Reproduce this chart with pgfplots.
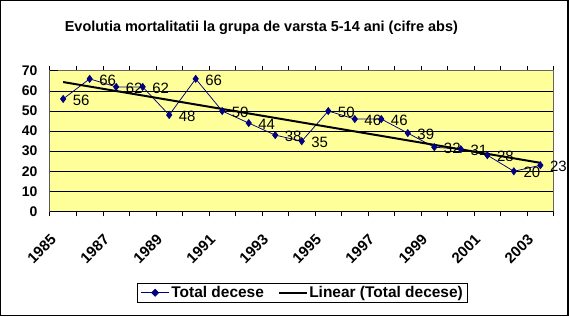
\documentclass[border=0pt]{standalone}
\usepackage{pgfplots}
\usepackage{pgfplotstable}
\pgfplotsset{compat=1.18}
\usepackage{fontspec}
\setmainfont{Liberation Sans}
\definecolor{plotyellow}{HTML}{FFFF99}
\definecolor{navy}{HTML}{000080}
\pgfplotstableread{
X Y
0 56
1 66
2 62
3 62
4 48
5 66
6 50
7 44
8 38
9 35
10 50
11 46
12 46
13 39
14 32
15 31
16 28
17 20
18 23
}\deaths
\begin{document}
\begin{tikzpicture}[x=1bp,y=1bp]
\fill[white] (0,0) rectangle (570,317);
\draw[black,line width=1.5bp] (0.75,0.75) rectangle (569.25,316.25);
\node[anchor=base,font=\bfseries\fontsize{14.5bp}{16bp}\selectfont] at (262,285.5) {Evolutia mortalitatii la grupa de varsta 5-14 ani (cifre abs)};
\begin{axis}[
  at={(50bp,105bp)}, anchor=south west,
  scale only axis, width=505bp, height=141bp,
  xmin=-0.5, xmax=18.5, ymin=0, ymax=70,
  axis background/.style={fill=plotyellow},
  axis line style={draw=gray!80!black, line width=0.8bp},
  ytick={0,10,...,70},
  ymajorgrids, major grid style={black, line width=0.8bp},
  xtick={-0.5,0.5,...,18.5}, xticklabels={},
  extra x ticks={0,2,...,18},
  extra x tick labels={1985,1987,1989,1991,1993,1995,1997,1999,2001,2003},
  extra x tick style={major tick length=0pt, grid=none,
    xticklabel style={rotate=45, anchor=north east, inner sep=0pt, xshift=-25bp, yshift=-6bp,
      font=\bfseries\fontsize{15bp}{17bp}\selectfont}},
  tick align=outside, major tick length=5bp,
  tick style={black, line width=0.8bp},
  ytick style={draw=none},
  ticklabel style={font=\bfseries\fontsize{14bp}{16bp}\selectfont},
  yticklabel style={/pgf/number format/assume math mode=true, xshift=-4bp},
  legend style={at={(0.502,-0.578)}, anchor=center, legend columns=2,
    draw=black, line width=0.8bp, fill=white,
    font=\bfseries\fontsize{15.5bp}{17bp}\selectfont,
    /tikz/every even column/.append style={column sep=12bp},
    inner ysep=1.5bp, inner xsep=3bp},
  legend cell align=left,
]
% left and bottom black axes, y tick marks
\draw[black, line width=0.8bp] (rel axis cs:0,1) -- (rel axis cs:0,0) -- (rel axis cs:1,0);
\pgfplotsinvokeforeach{0,10,...,70}{\draw[black, line width=0.8bp] (axis cs:-0.5,#1) -- ++(-5bp,0);}
\addplot[navy, line width=0.75bp, mark=diamond*, mark size=3.5bp,
  mark options={fill=navy, draw=navy},
  nodes near coords={\pgfmathprintnumber[assume math mode=true]{\pgfplotspointmeta}},
  point meta=explicit,
  every node near coord/.style={anchor=west, xshift=6bp, yshift=-1bp, black,
    font=\fontsize{15bp}{17bp}\selectfont},
  legend image code/.code={\draw[navy, line width=0.75bp] (0bp,0bp) -- (28bp,0bp);
    \fill[navy] (14bp,0bp) +(-3.5bp,0) -- +(0,3.5bp) -- +(3.5bp,0) -- +(0,-3.5bp) -- cycle;}]
  table[x=X, y=Y, meta=Y] {\deaths};
\addlegendentry{Total decese}
\addplot[black, line width=2bp, no marks,
  legend image code/.code={\draw[black, line width=1.5bp] (0bp,0bp) -- (28bp,0bp);}]
  table[x=X, y={create col/linear regression={y=Y}}] {\deaths};
\addlegendentry{Linear (Total decese)}
\end{axis}
\end{tikzpicture}
\end{document}
